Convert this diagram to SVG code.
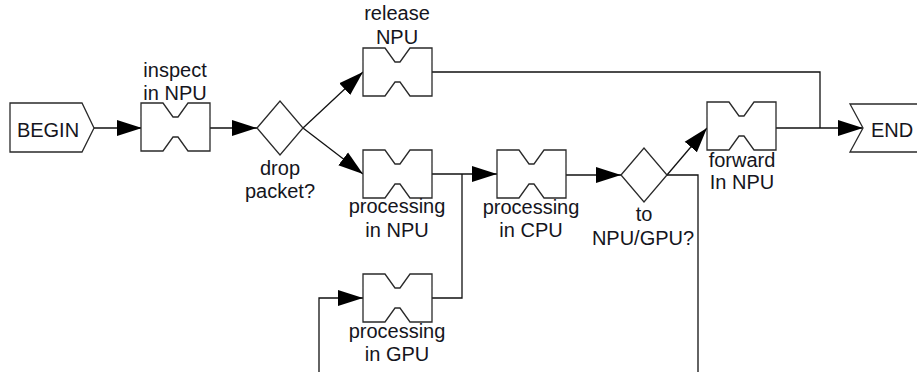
<svg xmlns="http://www.w3.org/2000/svg" xmlns:xlink="http://www.w3.org/1999/xlink" width="917" height="372" viewBox="0 0 917 372">
  <style>
    .shape { fill: #ffffff; stroke: #2a2a2a; stroke-width: 1.3; stroke-linejoin: miter; }
    .wire { fill: none; stroke: #111111; stroke-width: 1.3; }
    .arrow { marker-end: url(#head); }
    text { font-family: "Liberation Sans", Arial, sans-serif; font-size: 20px; fill: #151520; }
    .lbl { text-anchor: middle; }
  </style>
  <defs>
    <!-- filled triangular arrowhead, tip at the line end -->
    <marker id="head" markerUnits="userSpaceOnUse" markerWidth="26" markerHeight="18" viewBox="0 0 26 18" refX="25" refY="9" orient="auto">
      <path d="M0,1 L25,9 L0,17 Z" fill="#000000"/>
    </marker>
    <!-- process box with pinched top and bottom edges -->
    <path id="proc" d="M0,0 H22 L32,14 H37 L47,0 H69 V48 H47 L37,34 H32 L22,48 H0 Z"/>
    <!-- decision diamond -->
    <path id="dec" d="M-23,0 L0,-27 L23,0 L0,27 Z"/>
  </defs>

  <g id="connectors">
    <line class="wire arrow" x1="94" y1="128" x2="142" y2="128"/>
    <line class="wire arrow" x1="210" y1="128" x2="257" y2="128"/>
    <line class="wire arrow" x1="303" y1="128" x2="363" y2="72"/>
    <line class="wire arrow" x1="303" y1="128" x2="363" y2="174"/>
    <polyline class="wire" points="432,72 820,72 820,128"/>
    <line class="wire arrow" x1="432" y1="174" x2="497" y2="174"/>
    <polyline class="wire" points="432,298 462,298 462,174"/>
    <polyline class="wire arrow" points="319,372 319,298 363,298"/>
    <line class="wire arrow" x1="565" y1="175" x2="621" y2="175"/>
    <polyline class="wire" points="667,175 698,175 698,372"/>
    <line class="wire arrow" x1="667" y1="175" x2="707" y2="128"/>
    <line class="wire arrow" x1="776" y1="128" x2="863" y2="128"/>
  </g>

  <g id="begin">
    <path class="shape" d="M10,103 H82 L94,128 L82,152 H10 Z"/>
    <text x="48" y="137" class="lbl">BEGIN</text>
  </g>

  <g id="inspect">
    <use xlink:href="#proc" class="shape" transform="translate(141,103)"/>
    <text x="175" y="77" class="lbl">inspect</text>
    <text x="175" y="100" class="lbl">in NPU</text>
  </g>

  <g id="drop">
    <use xlink:href="#dec" class="shape" transform="translate(280,128)"/>
    <text x="280" y="175" class="lbl">drop</text>
    <text x="280" y="198" class="lbl">packet?</text>
  </g>

  <g id="release">
    <use xlink:href="#proc" class="shape" transform="translate(363,48)"/>
    <text x="397" y="20" class="lbl">release</text>
    <text x="397" y="44" class="lbl">NPU</text>
  </g>

  <g id="proc-npu">
    <use xlink:href="#proc" class="shape" transform="translate(363,150)"/>
    <text x="397" y="213" class="lbl">processing</text>
    <text x="397" y="237" class="lbl">in NPU</text>
  </g>

  <g id="proc-gpu">
    <use xlink:href="#proc" class="shape" transform="translate(363,274)"/>
    <text x="397" y="338" class="lbl">processing</text>
    <text x="397" y="361" class="lbl">in GPU</text>
  </g>

  <g id="proc-cpu">
    <use xlink:href="#proc" class="shape" transform="translate(497,150)"/>
    <text x="531" y="214" class="lbl">processing</text>
    <text x="531" y="237" class="lbl">in CPU</text>
  </g>

  <g id="route">
    <use xlink:href="#dec" class="shape" transform="translate(644,175)"/>
    <text x="644" y="221" class="lbl">to</text>
    <text x="643" y="245" class="lbl">NPU/GPU?</text>
  </g>

  <g id="forward">
    <use xlink:href="#proc" class="shape" transform="translate(707,102)"/>
    <text x="742" y="167" class="lbl">forward</text>
    <text x="742" y="189" class="lbl">In NPU</text>
  </g>

  <g id="end">
    <path class="shape" d="M925,104 H850 L863,128 L850,152 H925"/>
    <text x="871" y="137">END</text>
  </g>
</svg>
